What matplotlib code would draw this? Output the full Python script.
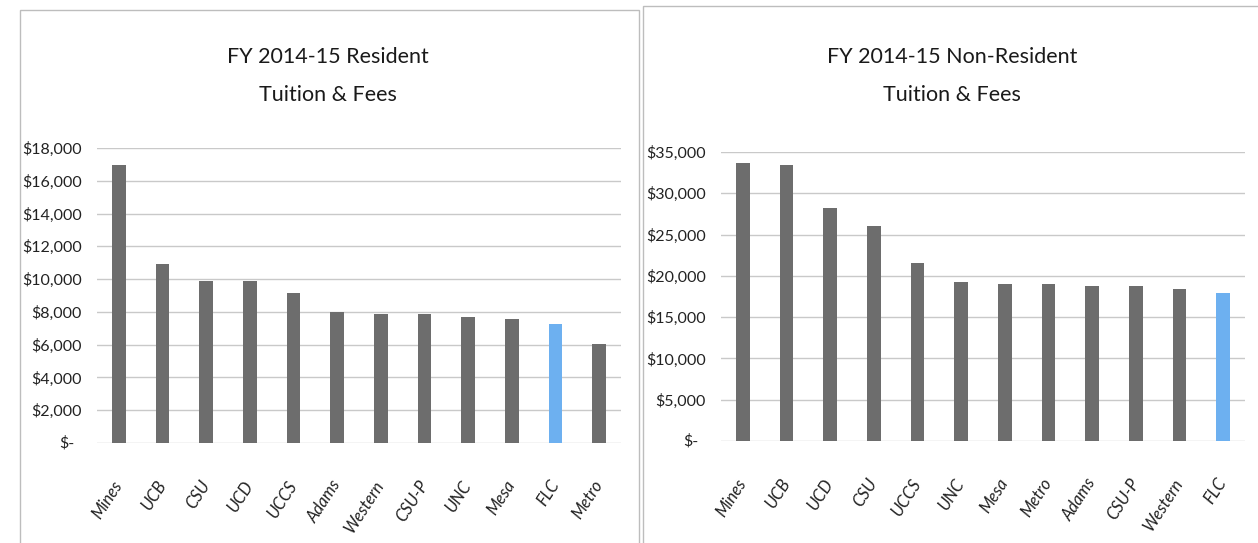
import matplotlib
matplotlib.use("Agg")
import matplotlib.pyplot as plt
from matplotlib.patches import Rectangle
from matplotlib.ticker import FuncFormatter
from matplotlib.transforms import blended_transform_factory, offset_copy

plt.rcParams['font.family'] = ['Lato', 'DejaVu Sans']

res_schools = ["Mines", "UCB", "CSU", "UCD", "UCCS", "Adams", "Western", "CSU-P", "UNC", "Mesa", "FLC", "Metro"]
res_values = [16950, 10920, 9900, 9900, 9170, 8010, 7890, 7890, 7710, 7570, 7280, 6060]
res_ticks = [0, 2000, 4000, 6000, 8000, 10000, 12000, 14000, 16000, 18000]

non_schools = ["Mines", "UCB", "UCD", "CSU", "UCCS", "UNC", "Mesa", "Metro", "Adams", "CSU-P", "Western", "FLC"]
non_values = [33720, 33480, 28160, 26040, 21600, 19280, 19000, 19000, 18760, 18760, 18440, 17920]
non_ticks = [0, 5000, 10000, 15000, 20000, 25000, 30000, 35000]

highlight = "FLC"
GRAY = "#6d6d6d"
BLUE = "#6db0f0"
YPAD = 11

W, H = 1258, 543
fig = plt.figure(figsize=(W / 100, H / 100), dpi=100)

def fmt(v, pos):
    if v == 0:
        return ""
    return "${:,.0f}".format(v)

def panel(rect, names, vals, ticks, title_lines, title_x):
    ax = fig.add_axes(rect)
    colors = [BLUE if n == highlight else GRAY for n in names]
    ax.bar(range(len(names)), vals, width=0.32, color=colors, zorder=3)
    ax.set_xlim(-0.5, len(names) - 0.5)
    ax.set_ylim(0, ticks[-1])
    ax.set_yticks(ticks)
    ax.yaxis.set_major_formatter(FuncFormatter(fmt))
    # accounting-style zero label
    tr = offset_copy(blended_transform_factory(ax.transAxes, ax.transData), fig=fig,
                     x=-(YPAD + 5), y=0, units="points")
    ax.text(0, 0, "$-", transform=tr, ha="right", va="center", fontsize=11.5, color="#222222")
    ax.set_xticks(range(len(names)))
    ax.set_xticklabels(names, rotation=57, ha="right", va="center", rotation_mode="anchor",
                       fontstyle="italic", fontsize=12, color="#222222")
    for s in ax.spines.values():
        s.set_visible(False)
    ax.grid(axis="y", color="#c9c9c9", linewidth=1.0, zorder=0)
    ax.tick_params(axis="both", length=0)
    ax.tick_params(axis="y", labelsize=11.5, labelcolor="#222222", pad=YPAD)
    ax.tick_params(axis="x", pad=28)
    fig.text(title_x, 1 - 57 / H, title_lines[0], ha="center", va="center", fontsize=15.5, color="#1a1a1a")
    fig.text(title_x, 1 - 95 / H, title_lines[1], ha="center", va="center", fontsize=15.5, color="#1a1a1a")
    return ax

panel([97 / W, 1 - 443 / H, 524 / W, 295 / H], res_schools, res_values, res_ticks,
      ["FY 2014-15 Resident", "Tuition & Fees"], 328 / W)
panel([721 / W, 1 - 441 / H, 524 / W, 289 / H], non_schools, non_values, non_ticks,
      ["FY 2014-15 Non-Resident", "Tuition & Fees"], 952 / W)

# panel borders
fig.patches.append(Rectangle((20 / W, -0.05), 619 / W, 1.05 - 10 / H, transform=fig.transFigure,
                             fill=False, edgecolor="#bdbdbd", linewidth=1.0))
fig.patches.append(Rectangle((643 / W, -0.05), 620 / W, 1.05 - 6 / H, transform=fig.transFigure,
                             fill=False, edgecolor="#bdbdbd", linewidth=1.0))

fig.savefig("out.png", dpi=100, facecolor="white")
